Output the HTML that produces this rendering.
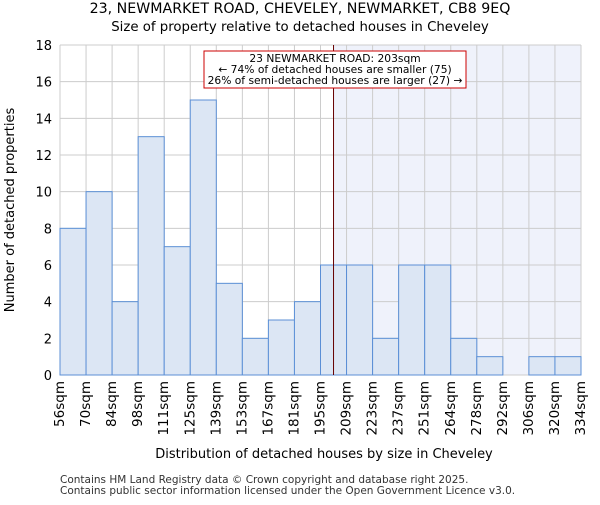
<!DOCTYPE html><html><head><meta charset="utf-8"><style>body{margin:0;background:#fff}svg{font-family:"DejaVu Sans","Liberation Sans",sans-serif}</style></head><body>
<svg id="c" width="600" height="500"></svg>
<script>
const labels=["56sqm","70sqm","84sqm","98sqm","111sqm","125sqm","139sqm","153sqm","167sqm","181sqm","195sqm","209sqm","223sqm","237sqm","251sqm","264sqm","278sqm","292sqm","306sqm","320sqm","334sqm"];
const counts=[8,10,4,13,7,15,5,2,3,4,6,6,2,6,6,2,1,0,1,1];
const yTicks=[0,2,4,6,8,10,12,14,16,18];
const marker=10.5;
const L=60,R=581,T=45,B=375,n=counts.length,bw=(R-L)/n;
const X=i=>L+i*bw, Y=v=>B-(B-T)*v/18;
const s=document.getElementById('c');const NS='http://www.w3.org/2000/svg';
function mk(t,a,txt){const e=document.createElementNS(NS,t);for(const k in a)e.setAttribute(k,a[k]);if(txt!=null)e.textContent=txt;s.appendChild(e);return e;}
let e;
e=mk('rect',{x:X(marker),y:T,width:R-X(marker),height:B-T,fill:'#eff2fb'});

for(const v of yTicks){e=mk('line',{x1:L,x2:R,y1:Y(v),y2:Y(v),stroke:'#cccccc'});
e=mk('text',{x:L-8,y:Y(v)+5,'text-anchor':'end','font-size':13},v);}
for(let i=0;i<=n;i++){e=mk('line',{x1:X(i),x2:X(i),y1:T,y2:B,stroke:'#cccccc'});}
counts.forEach((v,i)=>{if(!v)return;e=mk('rect',{x:X(i),y:Y(v),width:bw,height:B-Y(v),fill:'#dce6f4',stroke:'#5b8fd6','stroke-width':1});});
labels.forEach((l,i)=>{const x=X(i)+4;e=mk('text',{x:x,y:381,'text-anchor':'end','font-size':13.5,transform:`rotate(-90 ${x} 381)`},l);});
e=mk('line',{x1:X(marker),x2:X(marker),y1:T,y2:B,stroke:'#660000','stroke-width':1});
e=mk('rect',{x:204,y:51,width:262,height:37,fill:'#fff',stroke:'#cc0000'});
[["23 NEWMARKET ROAD: 203sqm",62],["← 74% of detached houses are smaller (75)",73],["26% of semi-detached houses are larger (27) →",84]].forEach(a=>{e=mk('text',{x:335,y:a[1],'text-anchor':'middle','font-size':10.7},a[0]);});
e=mk('text',{x:300,y:13,'text-anchor':'middle','font-size':14.2},'23, NEWMARKET ROAD, CHEVELEY, NEWMARKET, CB8 9EQ');
e=mk('text',{x:300,y:31,'text-anchor':'middle','font-size':13.3},'Size of property relative to detached houses in Cheveley');
e=mk('text',{x:324,y:458,'text-anchor':'middle','font-size':13},'Distribution of detached houses by size in Cheveley');
e=mk('text',{x:14,y:210,'text-anchor':'middle','font-size':13,transform:'rotate(-90 14 210)'},'Number of detached properties');
e=mk('text',{x:60,y:483,'font-size':10.5,fill:'#333'},'Contains HM Land Registry data © Crown copyright and database right 2025.');
e=mk('text',{x:60,y:494,'font-size':10.5,fill:'#333'},'Contains public sector information licensed under the Open Government Licence v3.0.');
</script></body></html>
